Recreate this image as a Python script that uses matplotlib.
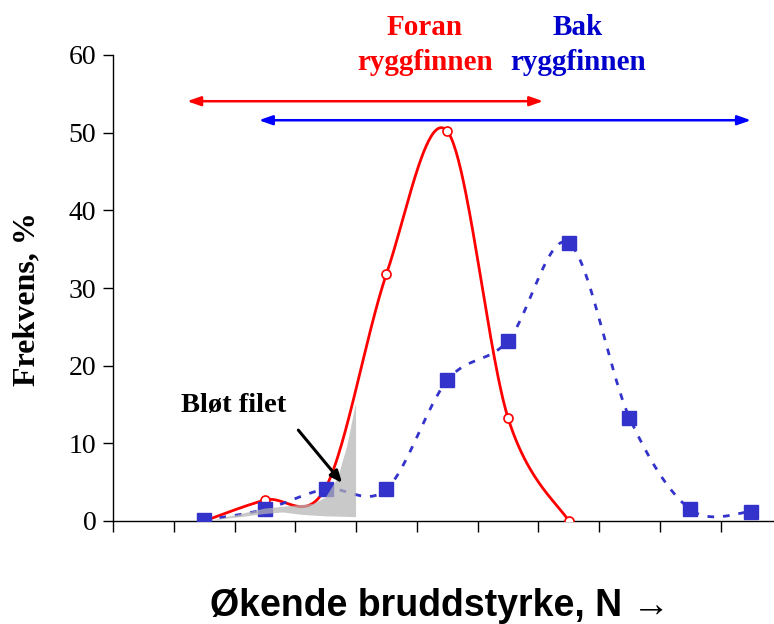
import numpy as np
import matplotlib
matplotlib.use("Agg")
import matplotlib.pyplot as plt

# ---- data ----
front_x = [1, 2, 3, 4, 5, 6, 7]
front_y = [0.0, 2.7, 4.3, 31.8, 50.2, 13.3, 0.0]
front_marked = [2, 4, 5, 6, 7]

back_x = [1, 2, 3, 4, 5, 6, 7, 8, 9, 10]
back_y = [0.1, 1.5, 4.1, 4.1, 18.1, 23.2, 35.8, 13.3, 1.5, 1.2]

soft_x = [1.15, 1.6, 2.0, 2.5, 2.8, 3.0, 3.2, 3.35, 3.5, 3.5, 3.0, 2.6, 2.3, 2.0, 1.6]
soft_y = [0.1, 0.9, 1.6, 2.0, 2.2, 3.0, 5.5, 9.5, 15.2, 0.5, 0.6, 0.8, 1.1, 0.9, 0.5]

front_range = (0.72, 6.58)
back_range = (1.9, 10.0)

y_ticks = [0, 10, 20, 30, 40, 50, 60]
x_tick_edges = [i - 0.5 for i in range(11)]


def smooth(x, y, n=50):
    # Catmull-Rom style Bezier smoothing (like a spreadsheet "smoothed line")
    P = np.column_stack([np.asarray(x, float), np.asarray(y, float)])
    out = []
    for i in range(len(P) - 1):
        p0 = P[i - 1] if i > 0 else P[i]
        p1 = P[i]
        p2 = P[i + 1]
        p3 = P[i + 2] if i + 2 < len(P) else P[i + 1]
        c1 = p1 + (p2 - p0) / 6.0
        c2 = p2 - (p3 - p1) / 6.0
        t = np.linspace(0, 1, n)[:, None]
        seg = ((1 - t) ** 3) * p1 + 3 * ((1 - t) ** 2) * t * c1 + 3 * (1 - t) * t ** 2 * c2 + t ** 3 * p2
        if i > 0:
            seg = seg[1:]
        out.append(seg)
    out = np.vstack(out)
    return out[:, 0], out[:, 1]


fig = plt.figure(figsize=(7.74, 6.24), dpi=100)
ax = fig.add_axes([113 / 774, (624 - 521) / 624, 661 / 774, 466 / 624])

RED = "#FF0000"
BLUE = "#3333CC"

# front curve
sx, sy = smooth(front_x, front_y)
ax.plot(sx, sy, color=RED, lw=2.0, zorder=3, solid_capstyle="round")
mx = list(front_marked)
my = [front_y[front_x.index(v)] for v in front_marked]
ax.plot(mx, my, linestyle="none", marker="o", ms=6.5, mfc="white", mec=RED, mew=1.2, zorder=4)

# back curve
bx, by = smooth(back_x, back_y)
ax.plot(bx, by, color=BLUE, lw=2.0, dashes=(2.4, 3.2), zorder=3)
ax.plot(back_x, back_y, linestyle="none", marker="s", ms=9.5, mfc=BLUE, mec=BLUE, zorder=5)

# soft fillet region
ax.fill(soft_x, soft_y, color="#b4b4b4", alpha=0.72, lw=0, zorder=6)

# range arrows
ax.annotate("", xy=(front_range[0], 54.05), xytext=(front_range[1], 54.05),
            arrowprops=dict(arrowstyle="<|-|>,head_length=0.8,head_width=0.28", color="#FF0000", lw=1.8,
                            shrinkA=0, shrinkB=0), annotation_clip=False)
ax.annotate("", xy=(back_range[0], 51.6), xytext=(back_range[1], 51.6),
            arrowprops=dict(arrowstyle="<|-|>,head_length=0.8,head_width=0.28", color="#0000FF", lw=1.8,
                            shrinkA=0, shrinkB=0), annotation_clip=False)

serif = "Liberation Serif"
fig.text(425 / 774, 1 - 45 / 624, "Foran\nryggfinnen", color="#FF0000", family=serif, weight="bold",
         fontsize=21, ha="center", va="center", linespacing=1.35)
fig.text(578 / 774, 1 - 45 / 624, "Bak\nryggfinnen", color="#0000CC", family=serif, weight="bold",
         fontsize=21, ha="center", va="center", linespacing=1.35)

# annotation
ax.text(1.48, 14.0, "Bløt filet", family=serif, weight="bold", fontsize=20.5, ha="center", va="baseline")
ax.annotate("", xy=(3.27, 4.9), xytext=(2.55, 11.7),
            arrowprops=dict(arrowstyle="-|>,head_length=0.7,head_width=0.3", color="black", lw=2.2,
                            shrinkA=0, shrinkB=0), zorder=7)

# axes styling
ax.set_xlim(-0.5, (774 - 143) / 60.8)
ax.set_ylim(0, 60)
ax.set_yticks(y_ticks)
ax.set_yticklabels([str(v) for v in y_ticks], family=serif, fontsize=20)
ax.set_xticks(x_tick_edges)
ax.set_xticklabels([])
for s in ["top", "right"]:
    ax.spines[s].set_visible(False)
for s in ["left", "bottom"]:
    ax.spines[s].set_linewidth(1.0)
ax.tick_params(axis="y", direction="out", length=7, width=1.0, pad=5)
ax.tick_params(axis="x", direction="out", length=8, width=1.0)

fig.text(27 / 774, 1 - 299 / 624, "Frekvens, %", family=serif, weight="bold", fontsize=23,
         rotation=90, ha="center", va="center")
fig.text(440 / 774, 1 - 606 / 624, "Økende bruddstyrke, N \u2192", family=["Liberation Sans", "DejaVu Sans"],
         weight="bold", fontsize=27, ha="center", va="center")

fig.savefig("out.png", dpi=100)
